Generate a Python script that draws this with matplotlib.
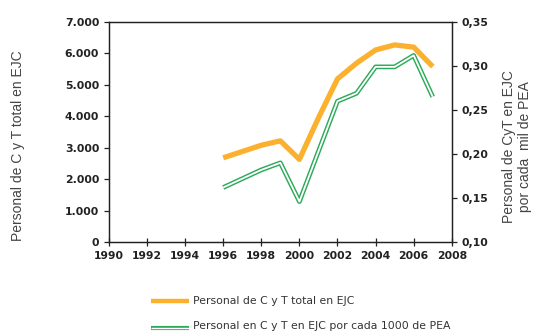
import matplotlib.pyplot as plt
from matplotlib.lines import Line2D
from matplotlib.ticker import FuncFormatter

# Series
years = [1996, 1997, 1998, 1999, 2000, 2001, 2002, 2003, 2004, 2005, 2006, 2007]
personal_total = [2680, 2880, 3080, 3220, 2630, 3950, 5190, 5690, 6110, 6270, 6200, 5580]
personal_por_pea = [0.162, 0.172, 0.182, 0.190, 0.146, 0.203, 0.260, 0.269, 0.299, 0.299, 0.312, 0.265]

x_ticks = list(range(1990, 2009, 2))
left_ticks = list(range(0, 7001, 1000))
right_ticks = [0.10, 0.15, 0.20, 0.25, 0.30, 0.35]

ORANGE = '#FBB12E'
GREEN = '#2EAA5C'
LABEL_GRAY = '#444444'

fig = plt.figure(figsize=(5.34, 3.33), dpi=100)
ax = fig.add_axes([0.204, 0.273, 0.642, 0.661])
ax2 = ax.twinx()

ax.plot(years, personal_total, color=ORANGE, lw=3.8, solid_capstyle='butt', zorder=3)
ax2.plot(years, personal_por_pea, color=GREEN, lw=3.4, solid_capstyle='butt', zorder=3)
ax2.plot(years, personal_por_pea, color='white', lw=1.3, solid_capstyle='butt', zorder=4)

ax.set_xlim(1990, 2008)
ax.set_ylim(0, 7000)
ax2.set_ylim(0.10, 0.35)
ax.set_xticks(x_ticks)
ax.set_yticks(left_ticks)
ax2.set_yticks(right_ticks)

ax.yaxis.set_major_formatter(FuncFormatter(lambda v, p: f"{int(v):,}".replace(',', '.')))
ax2.yaxis.set_major_formatter(FuncFormatter(lambda v, p: f"{v:.2f}".replace('.', ',')))

ax.tick_params(axis='x', direction='inout', length=6, width=0.9, labelsize=7.8, colors='#222222')
ax.tick_params(axis='y', direction='out', length=3.5, width=0.9, labelsize=7.8, colors='#222222')
ax2.tick_params(axis='y', direction='out', length=3.5, width=0.9, labelsize=7.8, colors='#222222')
for lab in ax.get_xticklabels() + ax.get_yticklabels() + ax2.get_yticklabels():
    lab.set_fontweight('bold')

for a in (ax, ax2):
    for s in a.spines.values():
        s.set_linewidth(0.9)
        s.set_color('#222222')

ax.set_ylabel('Personal de C y T total en EJC', family='Liberation Sans',
              fontsize=10, color=LABEL_GRAY)
ax.yaxis.set_label_coords(-0.265, 0.436)
ax.yaxis.label.set_va('center')
ax2.set_ylabel('Personal de CyT en EJC\npor cada  mil de PEA', family='Liberation Sans',
               fontsize=10, color=LABEL_GRAY, linespacing=1.25)
ax2.yaxis.set_label_coords(1.19, 0.436)
ax2.yaxis.label.set_va('center')

# Legend drawn below the plot
fig.add_artist(Line2D([151 / 534, 189 / 534], [1 - 301 / 333] * 2, color=ORANGE, lw=3.2,
                      solid_capstyle='butt'))
fig.add_artist(Line2D([151 / 534, 189 / 534], [1 - 328 / 333] * 2, color=GREEN, lw=3.0,
                      solid_capstyle='butt'))
fig.add_artist(Line2D([151 / 534, 189 / 534], [1 - 328 / 333] * 2, color='white', lw=1.0,
                      solid_capstyle='butt'))
fig.text(193 / 534, 1 - 301 / 333, 'Personal de C y T total en EJC', fontsize=7.8,
         va='center', color='#333333')
fig.text(193 / 534, 1 - 326 / 333, 'Personal en C y T en EJC por cada 1000 de PEA', fontsize=7.8,
         va='center', color='#333333')

fig.savefig('out.png', dpi=100)
